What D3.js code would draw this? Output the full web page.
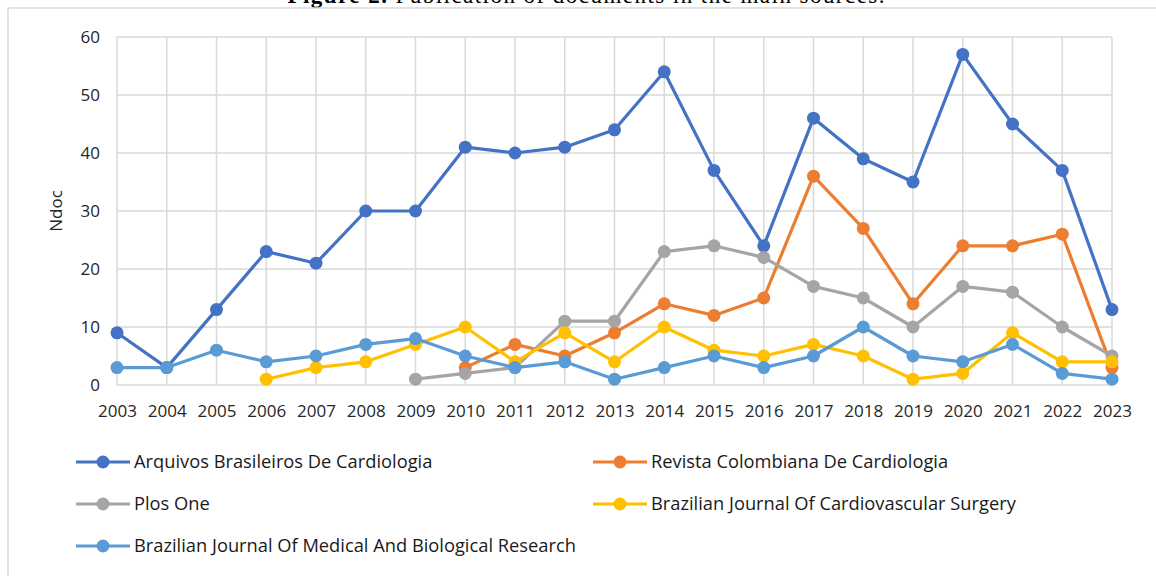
<!DOCTYPE html>
<html>
<head>
<meta charset="utf-8">
<script src="https://cdn.jsdelivr.net/npm/d3@7"></script>
<style>
    body { margin: 0; background: #fff; }
    svg { display: block; }
    .tick text { font-family: 'Open Sans', sans-serif; font-size: 17px; fill: #262626; }
    .legend text { font-family: 'Open Sans', sans-serif; font-size: 18.3px; fill: #1a1a1a; }
</style>
</head>
<body>
<svg id="chart" width="1156" height="576"></svg>
<script>
/*global d3*/
var years = [2003, 2004, 2005, 2006, 2007, 2008, 2009, 2010, 2011, 2012, 2013,
    2014, 2015, 2016, 2017, 2018, 2019, 2020, 2021, 2022, 2023];
var seriesNames = [
    'Arquivos Brasileiros De Cardiologia',
    'Revista Colombiana De Cardiologia',
    'Plos One',
    'Brazilian Journal Of Cardiovascular Surgery',
    'Brazilian Journal Of Medical And Biological Research'
];
var seriesColors = ['#4472C4', '#ED7D31', '#A5A5A5', '#FFC000', '#5B9BD5'];
// null = no documents reported for that year
var arquivos = [9, 3, 13, 23, 21, 30, 30, 41, 40, 41, 44, 54, 37, 24, 46, 39, 35, 57, 45, 37, 13];
var revista = [null, null, null, null, null, null, null, 3, 7, 5, 9, 14, 12, 15, 36, 27, 14, 24, 24, 26, 3];
var plosOne = [null, null, null, null, null, null, 1, 2, 3, 11, 11, 23, 24, 22, 17, 15, 10, 17, 16, 10, 5];
var bjcvs = [null, null, null, 1, 3, 4, 7, 10, 4, 9, 4, 10, 6, 5, 7, 5, 1, 2, 9, 4, 4];
var bjmbr = [3, 3, 6, 4, 5, 7, 8, 5, 3, 4, 1, 3, 5, 3, 5, 10, 5, 4, 7, 2, 1];
var yTicks = [0, 10, 20, 30, 40, 50, 60];

(function () {
    'use strict';
    var svg = d3.select('#chart'),
        allValues = [arquivos, revista, plosOne, bjcvs, bjmbr],
        x = d3.scalePoint().domain(years).range([117, 1112]),
        y = d3.scaleLinear().domain([0, 60]).range([385, 37]),
        GRID = '#d9d9d9';

    // title, mostly clipped by the top edge (as in the source figure)
    var title = svg.append('text')
        .attr('x', 586)
        .attr('y', 3)
        .attr('text-anchor', 'middle')
        .attr('textLength', 597)
        .style('font-family', "'Liberation Serif', serif")
        .style('font-size', '23px')
        .style('fill', '#000');
    title.append('tspan').style('font-weight', 'bold').text('Figure 2.');
    title.append('tspan').text(' Publication of documents in the main sources.');

    // chart frame
    svg.append('rect')
        .attr('x', 8).attr('y', 8)
        .attr('width', 1160).attr('height', 580)
        .attr('fill', 'none')
        .attr('stroke', GRID)
        .attr('stroke-width', 1.5);

    // gridlines
    svg.append('g').selectAll('line')
        .data(years)
        .join('line')
        .attr('x1', function (d) { return x(d); })
        .attr('x2', function (d) { return x(d); })
        .attr('y1', y(60)).attr('y2', y(0))
        .attr('stroke', GRID).attr('stroke-width', 1.5);
    svg.append('g').selectAll('line')
        .data(yTicks)
        .join('line')
        .attr('x1', x(2003)).attr('x2', x(2023))
        .attr('y1', function (d) { return y(d); })
        .attr('y2', function (d) { return y(d); })
        .attr('stroke', GRID).attr('stroke-width', 1.5);

    // axes (labels only)
    var xAxis = svg.append('g')
        .attr('transform', 'translate(0,' + y(0) + ')')
        .call(d3.axisBottom(x).tickSize(0).tickPadding(20));
    xAxis.select('.domain').remove();

    var yAxis = svg.append('g')
        .attr('transform', 'translate(' + (x(2003) - 15) + ',0)')
        .call(d3.axisLeft(y).tickValues(yTicks).tickSize(0).tickPadding(2));
    yAxis.select('.domain').remove();

    svg.append('text')
        .attr('transform', 'translate(62,' + ((y(0) + y(60)) / 2) + ') rotate(-90)')
        .attr('text-anchor', 'middle')
        .style('font-family', "'Open Sans', sans-serif")
        .style('font-size', '17px')
        .style('fill', '#262626')
        .text('Ndoc');

    // series
    var line = d3.line()
        .defined(function (d) { return d.v !== null; })
        .x(function (d) { return x(d.year); })
        .y(function (d) { return y(d.v); });

    allValues.forEach(function (values, i) {
        var pts = years.map(function (yr, j) { return { year: yr, v: values[j] }; });
        var g = svg.append('g');
        g.append('path')
            .datum(pts)
            .attr('d', line)
            .attr('fill', 'none')
            .attr('stroke', seriesColors[i])
            .attr('stroke-width', 3.2)
            .attr('stroke-linejoin', 'round');
        g.selectAll('circle')
            .data(pts.filter(function (d) { return d.v !== null; }))
            .join('circle')
            .attr('cx', function (d) { return x(d.year); })
            .attr('cy', function (d) { return y(d.v); })
            .attr('r', 6.5)
            .attr('fill', seriesColors[i]);
    });

    // legend
    var legend = svg.append('g').attr('class', 'legend');
    seriesNames.forEach(function (name, i) {
        var lx = i % 2 === 0 ? 76 : 593,
            ly = 462 + Math.floor(i / 2) * 42,
            item = legend.append('g').attr('transform', 'translate(' + lx + ',' + ly + ')');
        item.append('line')
            .attr('x1', 0).attr('x2', 54)
            .attr('stroke', seriesColors[i]).attr('stroke-width', 3.2);
        item.append('circle').attr('cx', 27).attr('r', 6.5).attr('fill', seriesColors[i]);
        item.append('text')
            .attr('x', 58).attr('dy', '0.35em')
            .text(name);
    });
}());
</script>
</body>
</html>
